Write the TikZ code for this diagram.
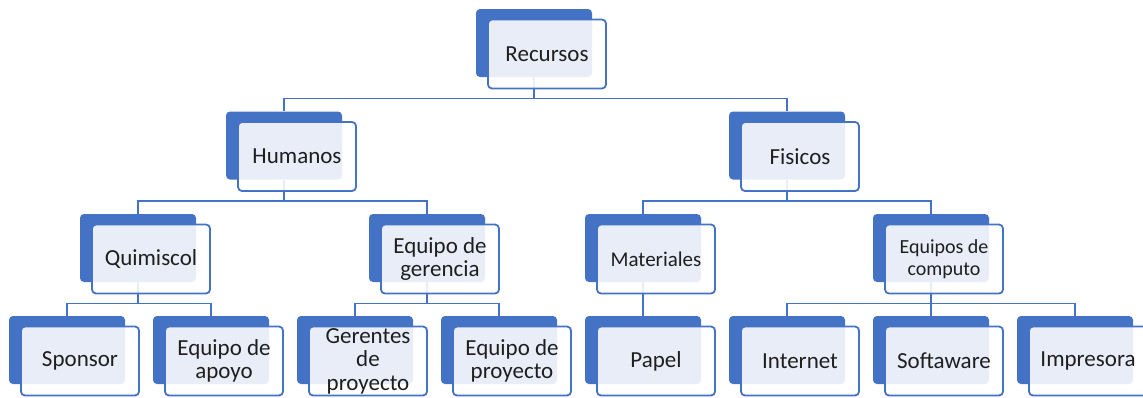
\documentclass[tikz,border=0pt]{standalone}
\usepackage{fontspec}
\setmainfont{Carlito}
\definecolor{ofcblue}{HTML}{4472C4}

\begin{document}
\begin{tikzpicture}[x=0.5pt, y=-0.5pt,
    back/.style={fill=ofcblue, draw=none, rounded corners=2pt, minimum width=58pt, minimum height=34pt, inner sep=0},
    front/.style={draw=ofcblue, line width=0.9pt, fill=white, fill opacity=0.88, text opacity=1, rounded corners=2pt,
        minimum width=59pt, minimum height=34.5pt, inner xsep=1pt, inner ysep=0pt, align=center, text=black!88,
        font=\fontsize{11.5}{11.8}\selectfont},
    link/.style={draw=ofcblue, line width=0.8pt}]
                \useasboundingbox (0,0) rectangle (1143,397);

                \node[back] (rec) at (534,43) {};
                \node[back] (hum) at (284,145.5) {};
                \node[back] (fis) at (787,145.5) {};
                \node[back] (qui) at (138,248) {};
                \node[back] (ger) at (427,248) {};
                \node[back] (mat) at (643,248) {};
                \node[back] (com) at (931,248) {};
                \node[back] (spo) at (67,350) {};
                \node[back] (apo) at (211,350) {};
                \node[back] (gpr) at (355,350) {};
                \node[back] (epr) at (499,350) {};
                \node[back] (pap) at (643,350) {};
                \node[back] (int) at (787,350) {};
                \node[back] (sof) at (931,350) {};
                \node[back] (imp) at (1075,350) {};

                \draw[link] (rec.south) -- ++(0,21) -| (hum.north);
                \draw[link] (rec.south) -- ++(0,21) -| (fis.north);
                \draw[link] (hum.south) -- ++(0,21) -| (qui.north);
                \draw[link] (hum.south) -- ++(0,21) -| (ger.north);
                \draw[link] (fis.south) -- ++(0,21) -| (mat.north);
                \draw[link] (fis.south) -- ++(0,21) -| (com.north);
                \draw[link] (qui.south) -- ++(0,21) -| (spo.north);
                \draw[link] (qui.south) -- ++(0,21) -| (apo.north);
                \draw[link] (ger.south) -- ++(0,21) -| (gpr.north);
                \draw[link] (ger.south) -- ++(0,21) -| (epr.north);
                \draw[link] (mat.south) -- (pap.north);
                \draw[link] (com.south) -- ++(0,21) -| (int.north);
                \draw[link] (com.south) -- ++(0,21) -| (sof.north);
                \draw[link] (com.south) -- ++(0,21) -| (imp.north);

                \path (rec) ++(13,11) node[front] (rec-t) {Recursos};
                \path (hum) ++(13,11) node[front] (hum-t) {Humanos};
                \path (fis) ++(13,11) node[front] (fis-t) {Fisicos};
                \path (qui) ++(13,11) node[front] (qui-t) {Quimiscol};
                \path (ger) ++(13,11) node[front] (ger-t) {Equipo de\\gerencia};
                \path (mat) ++(13,11) node[front, font=\fontsize{10.5}{11}\selectfont] (mat-t) {Materiales};
                \path (com) ++(13,11) node[front, font=\fontsize{10}{11}\selectfont] (com-t) {Equipos de\\computo};
                \path (spo) ++(13,11) node[front] (spo-t) {Sponsor};
                \path (apo) ++(13,11) node[front] (apo-t) {Equipo de\\apoyo};
                \path (gpr) ++(13,11) node[front] (gpr-t) {Gerentes\\de\\proyecto};
                \path (epr) ++(13,11) node[front] (epr-t) {Equipo de\\proyecto};
                \path (pap) ++(13,11) node[front] (pap-t) {Papel};
                \path (int) ++(13,11) node[front] (int-t) {Internet};
                \path (sof) ++(13,11) node[front] (sof-t) {Softaware};
                \path (imp) ++(13,11) node[front] (imp-t) {Impresora};
            \end{tikzpicture}
\end{document}
